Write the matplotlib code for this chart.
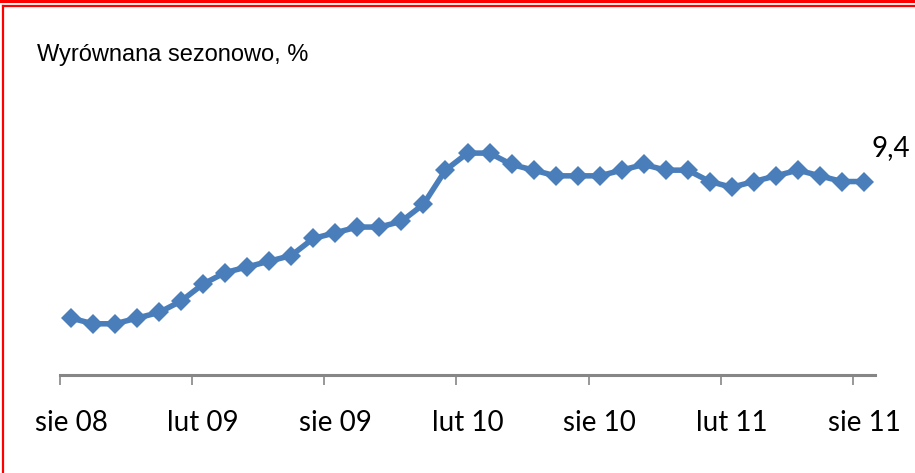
import numpy as np
import matplotlib.pyplot as plt
from matplotlib.lines import Line2D

# seasonally adjusted rate, monthly, sie 08 .. sie 11
values = [7.0, 6.9, 6.9, 7.0, 7.1, 7.3, 7.6, 7.8, 7.9, 8.0, 8.1, 8.4, 8.5,
          8.6, 8.6, 8.7, 9.0, 9.6, 9.9, 9.9, 9.7, 9.6, 9.5, 9.5, 9.5, 9.6,
          9.7, 9.6, 9.6, 9.4, 9.3, 9.4, 9.5, 9.6, 9.5, 9.4, 9.4]
tick_labels = ['sie 08', 'lut 09', 'sie 09', 'lut 10', 'sie 10', 'lut 11', 'sie 11']
title = 'Wyrównana sezonowo, %'
last_label = '9,4'

W, H = 915, 473
fig = plt.figure(figsize=(W / 100, H / 100), dpi=100)

ax = fig.add_axes([60 / W, 1 - 375 / H, 815 / W, (375 - 90.5) / H])

x = np.arange(len(values))
ax.plot(x, values, color='#4a7ebb', lw=4, marker='D', markersize=10,
        markeredgewidth=0, solid_joinstyle='round')

ax.set_xlim(-0.5, len(values) - 0.5)
ax.set_ylim(6, 11)

# labels sit on the months, tick marks between categories
ax.set_xticks(np.arange(0, len(values), 6))
ax.set_xticklabels(tick_labels, fontfamily='Lato', fontsize=20)
ax.set_xticks(np.arange(0, len(values), 6) - 0.5, minor=True)
ax.tick_params(axis='x', which='major', length=0, pad=25)
ax.tick_params(axis='x', which='minor', direction='out', length=7, width=1.2,
               color='#868686')
ax.set_yticks([])

for s in ['left', 'top', 'right']:
    ax.spines[s].set_visible(False)
ax.spines['bottom'].set_color('#868686')
ax.spines['bottom'].set_linewidth(2.2)

ax.annotate(last_label, xy=(x[-1], values[-1]), xytext=(19, 24),
            textcoords='offset points', ha='center', va='center',
            fontfamily='Lato', fontsize=20)

fig.text(37 / W, 1 - 55 / H, title, fontfamily='Liberation Sans', fontsize=17,
         ha='left', va='center')

# red frame
red = '#ff0000'
fig.add_artist(Line2D([0, 1], [1 - 1.5 / H, 1 - 1.5 / H], color=red, lw=2.2,
                      transform=fig.transFigure))
fig.add_artist(Line2D([3 / W, 1], [1 - 6.5 / H, 1 - 6.5 / H], color=red, lw=1.6,
                      transform=fig.transFigure))
fig.add_artist(Line2D([3 / W, 3 / W], [0, 1 - 6.5 / H], color=red, lw=1.6,
                      transform=fig.transFigure))

fig.savefig('out.png', dpi=100)
